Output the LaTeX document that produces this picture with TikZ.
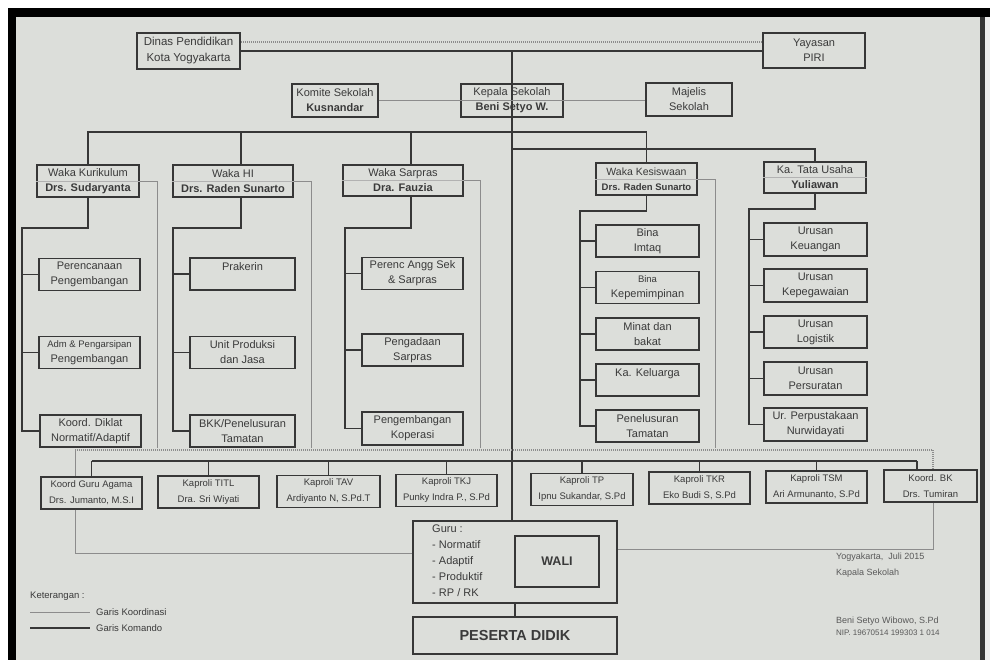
\documentclass[tikz,border=0pt]{standalone}
\usepackage{fontspec}
\setmainfont{Liberation Sans}
\definecolor{paper}{RGB}{220,222,218}
\definecolor{ink}{RGB}{55,55,55}
\definecolor{txt}{RGB}{58,58,58}
\definecolor{lgray}{RGB}{140,140,140}
\definecolor{midl}{RGB}{178,178,178}
\begin{document}
\begin{tikzpicture}[x=1pt,y=-1pt,
  bx/.style={draw=ink, line width=1.2pt, align=center, inner sep=0pt, text=txt, font=\fontsize{11}{15}\selectfont},
  sbx/.style={bx, line width=1.3pt, font=\fontsize{9.5}{16}\selectfont},
  kom/.style={draw=ink, line width=1.8pt},
  koor/.style={draw=lgray, line width=0.9pt},
  kdot/.style={draw=lgray, line width=1.2pt, dash pattern=on 1pt off 1pt},
  lbl/.style={anchor=west, inner sep=0pt, text=txt},
  midline/.style={draw=midl, line width=0.6pt}]
\useasboundingbox (0,0) rectangle (990,660);
% paper and frame
\fill[white] (0,0) rectangle (990,660);
\fill[black] (8,8) rectangle (990,17);
\fill[black] (8,8) rectangle (16,660);
\fill[paper] (16,17) rectangle (980,660);
\fill[black!80] (980,17) rectangle (985,660);
\fill[black!8] (985,17) rectangle (990,660);

% top level
\node[bx, line width=2pt, minimum width=103pt, minimum height=36pt, font=\fontsize{11.5}{16}\selectfont] (dinas) at (188.5,51) {Dinas Pendidikan\\Kota Yogyakarta};
\node[bx, line width=1.8pt, minimum width=102pt, minimum height=35pt] (yay) at (814,50.5) {Yayasan\\PIRI};
\node[bx, minimum width=86pt, minimum height=33pt] (komite) at (335,100.5) {Komite Sekolah\\\textbf{Kusnandar}};
\node[bx, minimum width=102pt, minimum height=33pt] (kepsek) at (512,100.5) {Kepala Sekolah\\\textbf{Beni Setyo W.}};
\node[bx, minimum width=86pt, minimum height=33pt] (majelis) at (689,99.5) {Majelis\\Sekolah};

% waka level
\node[bx, minimum width=102pt, minimum height=32pt] (wk) at (88,181) {Waka Kurikulum\\\textbf{Drs. Sudaryanta}};
\node[bx, minimum width=120pt, minimum height=32pt] (wh) at (233,181) {Waka HI\\\textbf{Drs. Raden Sunarto}};
\node[bx, minimum width=120pt, minimum height=31pt] (ws) at (403,180.5) {Waka Sarpras\\\textbf{Dra. Fauzia}};
\node[bx, minimum width=101pt, minimum height=32pt, font=\fontsize{10.5}{15}\selectfont] (wks) at (646.5,179) {Waka Kesiswaan\\{\fontsize{9.5}{15}\selectfont\textbf{Drs. Raden Sunarto}}};
\node[bx, minimum width=102pt, minimum height=31pt] (tu) at (815,177.5) {Ka. Tata Usaha\\\textbf{Yuliawan}};
\foreach \n in {wk,wh,ws,wks,tu} \draw[midline] (\n.west) -- (\n.east);

% kurikulum children
\node[bx, minimum width=101pt, minimum height=32pt] (k1) at (89.5,274.5) {Perencanaan\\Pengembangan};
\node[bx, minimum width=101pt, minimum height=32pt, font=\fontsize{9.5}{15}\selectfont] (k2) at (89.5,352.5) {Adm \& Pengarsipan\\{\fontsize{11}{15}\selectfont Pengembangan}};
\node[bx, minimum width=101pt, minimum height=32pt] (k3) at (90.5,431) {Koord. Diklat\\Normatif/Adaptif};
% HI children
\node[bx, minimum width=105pt, minimum height=32pt] (h1) at (242.5,274) {Prakerin\\ \mbox{}};
\node[bx, minimum width=105pt, minimum height=32pt] (h2) at (242.5,352.5) {Unit Produksi\\dan Jasa};
\node[bx, minimum width=105pt, minimum height=32pt] (h3) at (242.5,431) {BKK/Penelusuran\\Tamatan};
% sarpras children
\node[bx, minimum width=101pt, minimum height=32pt] (s1) at (412.5,273.5) {Perenc Angg Sek\\\& Sarpras};
\node[bx, minimum width=101pt, minimum height=32pt] (s2) at (412.5,350) {Pengadaan\\Sarpras};
\node[bx, minimum width=101pt, minimum height=33pt] (s3) at (412.5,428.5) {Pengembangan\\Koperasi};
% kesiswaan children
\node[bx, minimum width=103pt, minimum height=32pt] (e1) at (647.5,241) {Bina\\Imtaq};
\node[bx, minimum width=103pt, minimum height=32pt] (e2) at (647.5,287.5) {{\fontsize{9.5}{15}\selectfont Bina}\\Kepemimpinan};
\node[bx, minimum width=103pt, minimum height=32pt] (e3) at (647.5,334) {Minat dan\\bakat};
\node[bx, minimum width=103pt, minimum height=32pt] (e4) at (647.5,380) {Ka. Keluarga\\ \mbox{}};
\node[bx, minimum width=103pt, minimum height=32pt] (e5) at (647.5,426) {Penelusuran\\Tamatan};
% TU children
\node[bx, minimum width=103pt, minimum height=33pt] (u1) at (815.5,239.5) {Urusan\\Keuangan};
\node[bx, minimum width=103pt, minimum height=33pt] (u2) at (815.5,285.5) {Urusan\\Kepegawaian};
\node[bx, minimum width=103pt, minimum height=32pt] (u3) at (815.5,332) {Urusan\\Logistik};
\node[bx, minimum width=103pt, minimum height=33pt] (u4) at (815.5,378.5) {Urusan\\Persuratan};
\node[bx, minimum width=103pt, minimum height=33pt] (u5) at (815.5,424.5) {Ur. Perpustakaan\\Nurwidayati};

% bottom row
\node[sbx, minimum width=101pt, minimum height=32pt] (b1) at (91.5,493) {Koord Guru Agama\\Drs. Jumanto, M.S.I};
\node[sbx, minimum width=101pt, minimum height=32pt] (b2) at (208.5,492) {Kaproli TITL\\Dra. Sri Wiyati};
\node[sbx, minimum width=103pt, minimum height=32pt] (b3) at (328.5,491.5) {Kaproli TAV\\Ardiyanto N, S.Pd.T};
\node[sbx, minimum width=101pt, minimum height=32pt] (b4) at (446.5,490.5) {Kaproli TKJ\\Punky Indra P., S.Pd};
\node[sbx, minimum width=102pt, minimum height=32pt] (b5) at (582,489.5) {Kaproli TP\\Ipnu Sukandar, S.Pd};
\node[sbx, minimum width=101pt, minimum height=32pt] (b6) at (699.5,488) {Kaproli TKR\\Eko Budi S, S.Pd};
\node[sbx, minimum width=101pt, minimum height=32pt] (b7) at (816.5,487) {Kaproli TSM\\Ari Armunanto, S.Pd};
\node[sbx, minimum width=93pt, minimum height=32pt] (b8) at (930.5,486) {Koord. BK\\Drs. Tumiran};

% guru, wali, peserta didik
\node[bx, line width=1.4pt, minimum width=204pt, minimum height=82pt] (guru) at (515,562) {};
\node[bx, minimum width=84pt, minimum height=51pt, font=\bfseries\fontsize{12.5}{15}\selectfont] (wali) at (557,561.5) {WALI};
\node[anchor=north west, align=left, inner sep=0pt, text=txt, font=\fontsize{11}{15.8}\selectfont] (gtxt) at (432,525) {Guru :\\- Normatif\\- Adaptif\\- Produktif\\- RP / RK};
\node[bx, line width=2.6pt, minimum width=204pt, minimum height=37pt, font=\bfseries\fontsize{14.5}{16}\selectfont] (pd) at (515,635.5) {PESERTA DIDIK};

% ---- connectors ----
\coordinate (c42) at (0,42);
\draw[kdot] (dinas.east |- c42) -- (yay.west |- c42);
\draw[kom] (dinas.east) -- (dinas.east -| yay.west);
\coordinate (trk) at (512,51);
\draw[kom] (trk) -- (trk |- guru.north);
\draw[koor] (komite.east) -- (komite.east -| majelis.west);

\coordinate (h132) at (0,132);
\coordinate (hiX) at (241,0);
\coordinate (spX) at (411,0);
\draw[kom] (wk.north) |- (wks.north |- h132) -- (wks.north);
\draw[kom] (hiX |- h132) -- (hiX |- wh.north);
\draw[kom] (spX |- h132) -- (spX |- ws.north);
\coordinate (h149) at (512,149);
\draw[kom] (h149) -| (tu.north);

% subtrees
\coordinate (kk) at (22,228);
\draw[kom] (wk.south) |- (kk) |- (k3.west);
\foreach \c in {k1,k2} \draw[kom] (kk |- \c.west) -- (\c.west);
\coordinate (hh) at (173,228);
\draw[kom] (hiX |- wh.south) |- (hh) |- (h3.west);
\foreach \c in {h1,h2} \draw[kom] (hh |- \c.west) -- (\c.west);
\coordinate (ss) at (345,228);
\draw[kom] (spX |- ws.south) |- (ss) |- (s3.west);
\foreach \c in {s1,s2} \draw[kom] (ss |- \c.west) -- (\c.west);
\coordinate (ee) at (580,211);
\draw[kom] (wks.south) |- (ee) |- (e5.west);
\foreach \c in {e1,e2,e3,e4} \draw[kom] (ee |- \c.west) -- (\c.west);
\coordinate (uu) at (749,209);
\draw[kom] (tu.south) |- (uu) |- (u5.west);
\foreach \c in {u1,u2,u3,u4} \draw[kom] (uu |- \c.west) -- (\c.west);

% coordination lines right of waka
\coordinate (r1) at (157,448);
\coordinate (r2) at (311,448);
\coordinate (r3) at (480,448);
\coordinate (r4) at (715,448);
\draw[koor] (wk.east) -| (r1);
\draw[koor] (wh.east) -| (r2);
\draw[koor] (ws.east) -| (r3);
\draw[koor] (wks.east) -| (r4);

% bottom coordination
\coordinate (dl) at (75,450);
\coordinate (dr) at (933,450);
\draw[kdot] (dl) -- (dr) -- (dr |- b8.north);
\draw[koor] (dl) -- (dl |- b1.north);
\coordinate (gl) at (75,553);
\draw[koor] (gl |- b1.south) -- (gl) -- (gl -| guru.west);
\coordinate (gr) at (933,549);
\draw[koor] (gr |- b8.south) -- (gr) -- (gr -| guru.east);

% bottom command
\coordinate (kb) at (0,461);
\coordinate (bkx) at (917,0);
\draw[kom] (b1.north |- kb) -- (bkx |- kb);
\foreach \b in {b1,b2,b3,b4,b5,b6,b7} \draw[kom] (\b.north |- kb) -- (\b.north);
\draw[kom] (bkx |- kb) -- (bkx |- b8.north);
\draw[kom] (guru.south) -- (pd.north);

% legend
\node[lbl, font=\fontsize{9.5}{11}\selectfont] (ket) at (30,596) {Keterangan :};
\coordinate (la1) at (30,612); \coordinate (lb1) at (90,612);
\coordinate (la2) at (30,628); \coordinate (lb2) at (90,628);
\draw[koor] (la1) -- (lb1);
\draw[kom, line width=1.6pt] (la2) -- (lb2);
\node[lbl, font=\fontsize{9.5}{11}\selectfont] (lk1) at (96,612) {Garis Koordinasi};
\node[lbl, font=\fontsize{9.5}{11}\selectfont] (lk2) at (96,628) {Garis Komando};

% signature
\node[lbl, text=black!65, font=\fontsize{9}{11}\selectfont] (sg1) at (836,557) {Yogyakarta,\ \ Juli 2015};
\node[lbl, text=black!65, font=\fontsize{9}{11}\selectfont] (sg2) at (836,573) {Kapala Sekolah};
\node[lbl, text=black!65, font=\fontsize{9}{11}\selectfont] (sg3) at (836,621) {Beni Setyo Wibowo, S.Pd};
\node[lbl, text=black!65, font=\fontsize{8}{10}\selectfont] (sg4) at (836,633) {NIP. 19670514 199303 1 014};
\end{tikzpicture}
\end{document}
